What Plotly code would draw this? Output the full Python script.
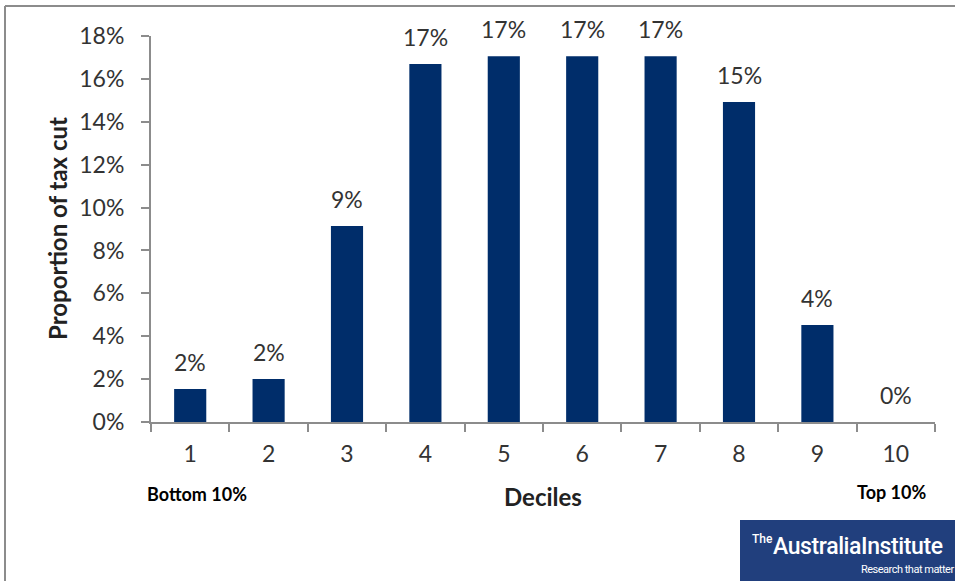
import plotly.graph_objects as go

deciles = ["1", "2", "3", "4", "5", "6", "7", "8", "9", "10"]
share = [1.54, 2.0, 9.14, 16.7, 17.06, 17.06, 17.06, 14.92, 4.52, 0.0]
labels = ["2%", "2%", "9%", "17%", "17%", "17%", "17%", "15%", "4%", "0%"]
yticks = [0, 2, 4, 6, 8, 10, 12, 14, 16, 18]
yticktext = [f"{v}%" for v in yticks]

W, H = 955, 581
L, R, T, B = 151, 20, 36, 159
pw, ph = W - L - R, H - T - B

def px(x):
    return (x - L) / pw

def py(y):
    return (H - B - y) / ph

FONT = "Lato"
fig = go.Figure()
fig.add_trace(go.Bar(x=deciles, y=share, marker=dict(color="#002d6a", line=dict(width=0)),
                     width=0.41, hoverinfo="skip"))

for i, (v, t) in enumerate(zip(share, labels)):
    fig.add_annotation(x=i, y=v, text=t, showarrow=False, yanchor="bottom", yshift=11,
                       font=dict(family=FONT, size=23, color="#333333"))

axis_col = "#8c8c8c"
fig.update_layout(
    width=W, height=H, margin=dict(l=L, r=R, t=T, b=B),
    paper_bgcolor="white", plot_bgcolor="white", showlegend=False,
    xaxis=dict(type="category", range=[-0.5, 9.5], showline=True, linecolor=axis_col, linewidth=2,
               ticks="outside", ticklen=8, tickcolor=axis_col, tickwidth=2,
               tickson="boundaries", showgrid=False, ticklabelstandoff=10,
               tickfont=dict(family=FONT, size=23, color="#333333")),
    yaxis=dict(range=[0, 18], tickvals=yticks, ticktext=yticktext, showline=True,
               linecolor=axis_col, linewidth=2, ticks="outside", ticklen=8,
               tickcolor=axis_col, tickwidth=2, showgrid=False, zeroline=False,
               ticklabelstandoff=12,
               tickfont=dict(family=FONT, size=23, color="#333333")),
)

# outer border
fig.add_shape(type="line", xref="paper", yref="paper", x0=px(5), x1=px(955), y0=py(6), y1=py(6),
              line=dict(color="#8c8c8c", width=2))
fig.add_shape(type="line", xref="paper", yref="paper", x0=px(5), x1=px(5), y0=py(6), y1=py(581),
              line=dict(color="#8c8c8c", width=2))

def note(x, y, text, size, color="#222222", family=FONT, xanchor="center", angle=0, weight=None):
    f = dict(family=family, size=size, color=color)
    if weight:
        f["weight"] = weight
    fig.add_annotation(xref="paper", yref="paper", x=px(x), y=py(y), text=text, textangle=angle,
                       xanchor=xanchor, yanchor="middle", showarrow=False, font=f)

# titles
note(57, 229, "<b>Proportion of tax cut</b>", 24, angle=-90)
note(543, 496, "<b>Deciles</b>", 24)
note(197, 494, "<b>Bottom 10%</b>", 18, color="#000000")
note(891, 492, "<b>Top 10%</b>", 18, color="#000000")

# logo
fig.add_shape(type="rect", xref="paper", yref="paper", x0=px(740), x1=px(958), y0=py(520), y1=py(584),
              fillcolor="#213f7d", line=dict(width=0))
note(750, 539, "The", 12, color="white", family="Roboto", xanchor="left", weight=500)
note(771, 546, "<span style='letter-spacing:-0.4px'>AustraliaInstitute</span>", 23, color="white",
     family="Roboto", xanchor="left", weight=500)
note(956, 569, "<span style='letter-spacing:-0.5px'>Research that matter</span>", 11, color="white",
     family="Roboto", xanchor="right")

fig.write_html("out.html")
